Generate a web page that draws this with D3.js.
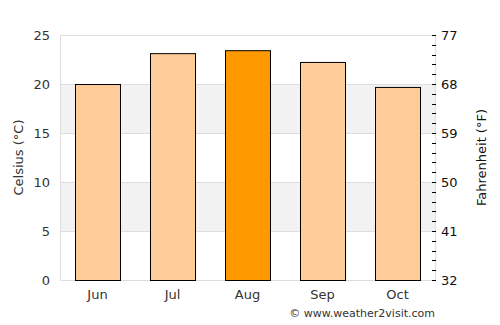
<!DOCTYPE html>
<html>
<head>
<meta charset="utf-8">
<script src="https://cdn.jsdelivr.net/npm/d3@7"></script>
<style>
  body { margin: 0; background: #fff; }
  text { font-family: "DejaVu Sans", sans-serif; }
</style>
</head>
<body>
<svg id="chart" width="500" height="325"></svg>
<script>
// monthly average temperature, Celsius
const months = ["Jun", "Jul", "Aug", "Sep", "Oct"]
const tempC = [20.0, 23.15, 23.45, 22.25, 19.7]
const highlight = "Aug"
const celsiusTicks = [0, 5, 10, 15, 20, 25]
const fahrenheitTicks = [32, 41, 50, 59, 68, 77]

const margin = {top: 35, right: 65, bottom: 45, left: 60}
const width = 500, height = 325

const svg = d3.select("#chart")

const x = d3.scaleBand().domain(months)
  .range([margin.left, width - margin.right])
  .paddingInner(0.4).paddingOuter(0.2)
const y = d3.scaleLinear().domain([0, 25]).range([height - margin.bottom, margin.top])
const yF = d3.scaleLinear().domain([32, 77]).range([height - margin.bottom, margin.top])

const left = margin.left, right = width - margin.right

// shaded bands 5-10 and 15-20
svg.selectAll("rect.band")
  .data([[5, 10], [15, 20]])
  .join("rect")
  .attr("class", "band")
  .attr("x", left).attr("width", right - left)
  .attr("y", d => y(d[1])).attr("height", d => y(d[0]) - y(d[1]))
  .attr("fill", "#f2f2f2")

// gridlines
svg.selectAll("line.grid")
  .data(celsiusTicks.slice(1))
  .join("line")
  .attr("class", "grid")
  .attr("x1", left).attr("x2", right)
  .attr("y1", d => y(d) + 0.5).attr("y2", d => y(d) + 0.5)
  .attr("stroke", "#dddddd")

// frame: left, right, bottom
svg.append("path")
  .attr("d", `M${left + 0.5},${margin.top} V${y(0) + 0.5} H${right + 0.5} V${margin.top}`)
  .attr("fill", "none").attr("stroke", "#dddddd")

// bars
svg.selectAll("rect.bar")
  .data(months.map((m, i) => ({m, v: tempC[i]})))
  .join("rect")
  .attr("class", "bar")
  .attr("x", d => x(d.m) + 0.5)
  .attr("width", x.bandwidth())
  .attr("y", d => y(d.v) + 0.5)
  .attr("height", d => y(0) - y(d.v))
  .attr("fill", d => d.m == highlight ? "#ff9900" : "#ffcc99")
  .attr("stroke", "#000").attr("stroke-width", 1)

// left axis labels
svg.selectAll("text.yl")
  .data(celsiusTicks)
  .join("text")
  .attr("class", "yl")
  .attr("x", 50).attr("y", d => y(d))
  .attr("dy", "0.35em")
  .attr("text-anchor", "end")
  .attr("font-size", 13).attr("fill", "#333")
  .text(d => d)

// right axis: minor ticks every 1 C (1.8 F)
const minor = d3.range(0, 26).map(c => 32 + c * 1.8)
svg.selectAll("line.minor")
  .data(minor)
  .join("line")
  .attr("class", "minor")
  .attr("x1", right - 3).attr("x2", right + 1)
  .attr("y1", d => Math.round(yF(d)) + 0.5).attr("y2", d => Math.round(yF(d)) + 0.5)
  .attr("stroke", "#000")

svg.selectAll("text.yr")
  .data(fahrenheitTicks)
  .join("text")
  .attr("class", "yr")
  .attr("x", 441).attr("y", d => yF(d))
  .attr("dy", "0.35em")
  .attr("font-size", 13).attr("fill", "#111")
  .text(d => d)

// x labels
svg.selectAll("text.xl")
  .data(months)
  .join("text")
  .attr("class", "xl")
  .attr("x", d => x(d) + x.bandwidth() / 2)
  .attr("y", 299)
  .attr("text-anchor", "middle")
  .attr("font-size", 13).attr("fill", "#333")
  .text(d => d)

// axis titles
svg.append("text")
  .attr("transform", `translate(23,${(margin.top + y(0)) / 2}) rotate(-90)`)
  .attr("text-anchor", "middle")
  .attr("font-size", 13).attr("fill", "#333")
  .text("Celsius (°C)")

svg.append("text")
  .attr("transform", `translate(486,${(margin.top + y(0)) / 2}) rotate(-90)`)
  .attr("text-anchor", "middle")
  .attr("font-size", 13).attr("fill", "#111")
  .text("Fahrenheit (°F)")

// credit
svg.append("text")
  .attr("x", 435).attr("y", 317)
  .attr("text-anchor", "end")
  .attr("font-size", 11).attr("fill", "#333")
  .text("© www.weather2visit.com")
</script>
</body>
</html>
